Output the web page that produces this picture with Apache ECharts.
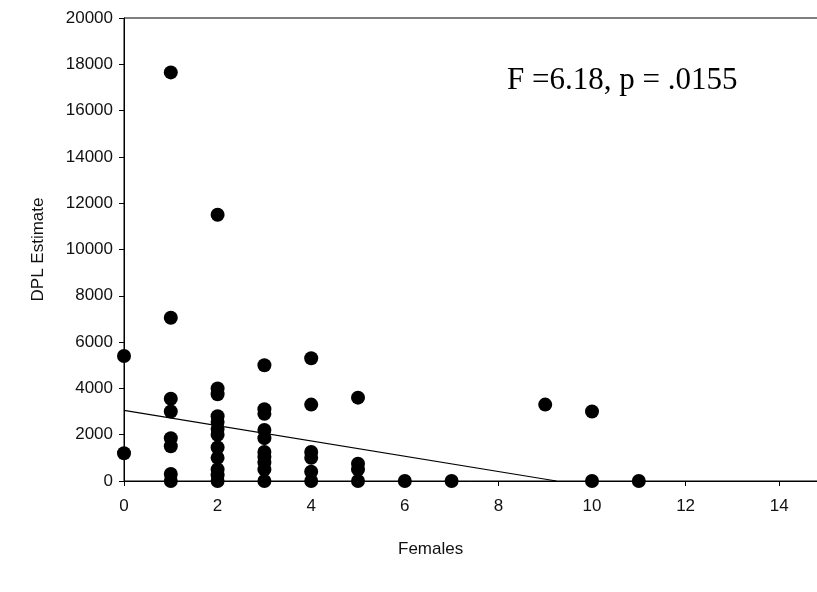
<!DOCTYPE html>
<html>
<head>
<meta charset="utf-8">
<script src="https://cdn.jsdelivr.net/npm/echarts@6/dist/echarts.min.js"></script>
<style>
    html, body { margin: 0; padding: 0; background: #fff; }
    #main { width: 817px; height: 592px; }
</style>
</head>
<body>
<div id="main"></div>
<script>
//  females count per group (x) and DPL estimate (y)
let femalesX = [0, 0,
    1, 1, 1, 1, 1, 1, 1, 1,
    2, 2, 2, 2, 2, 2, 2, 2, 2, 2, 2, 2,
    3, 3, 3, 3, 3, 3, 3, 3, 3, 3,
    4, 4, 4, 4, 4, 4,
    5, 5, 5, 5,
    6, 7, 9, 10, 10, 11];
let dplY = [5400, 1200,
    17650, 7050, 3550, 3000, 1850, 1500, 300, 0,
    11500, 4000, 3750, 2800, 2550, 2250, 2000, 1450, 1000, 500, 250, 0,
    5000, 3100, 2900, 2200, 1850, 1250, 1050, 800, 500, 0,
    5300, 3300, 1250, 1000, 400, 0,
    3600, 750, 500, 0,
    0, 0, 3300, 3000, 0, 0];

//  fitted regression line, ends where it hits zero
let fitX = [0, 9.24];
let fitY = [3050, 0];

let xTicks = [0, 2, 4, 6, 8, 10, 12, 14];
let yTicks = [0, 2000, 4000, 6000, 8000, 10000, 12000, 14000, 16000, 18000, 20000];

let statText = 'F =6.18, p = .0155';

let chart = echarts.init(document.getElementById('main'), null, { renderer: 'canvas' });

let points = [];
for (let i = 0; i < femalesX.length; i++) {
    points.push([femalesX[i], dplY[i]]);
}
let fitLine = [];
for (let i = 0; i < fitX.length; i++) {
    fitLine.push([fitX[i], fitY[i]]);
}

let labelFont = {
    color: '#111',
    fontSize: 17,
    fontFamily: 'Liberation Sans, Arial, sans-serif'
};

var option = {
    backgroundColor: '#ffffff',
    animation: false,
    grid: {
        left: 124,
        top: 18,
        bottom: 111,
        right: -9,      //  frame runs past the right edge of the picture, as in the original
        outerBoundsMode: 'none',
        show: true,
        borderColor: '#000',
        borderWidth: 1
    },
    xAxis: {
        type: 'value',
        min: 0,
        max: 15,
        interval: 2,
        splitLine: { show: false },
        axisLine: { show: true, onZero: false, lineStyle: { color: '#000', width: 1 } },
        axisTick: { show: true, inside: false, length: 5, lineStyle: { color: '#000' } },
        axisLabel: Object.assign({
            margin: 17,
            showMaxLabel: false,
            formatter: function (v) {
                return xTicks.indexOf(v) >= 0 ? String(v) : '';
            }
        }, labelFont)
    },
    yAxis: {
        type: 'value',
        min: yTicks[0],
        max: yTicks[yTicks.length - 1],
        interval: 2000,
        name: 'DPL Estimate',
        nameLocation: 'middle',
        nameGap: 77,
        nameTextStyle: labelFont,
        splitLine: { show: false },
        axisLine: { show: true, onZero: false, lineStyle: { color: '#000', width: 1 } },
        axisTick: { show: true, inside: false, length: 5, lineStyle: { color: '#000' } },
        axisLabel: Object.assign({
            margin: 11,
            formatter: function (v) { return String(v); }   //  no thousands comma
        }, labelFont)
    },
    graphic: [
        {
            type: 'text',
            left: 398,
            top: 541,
            style: {
                text: 'Females',
                fill: '#111',
                font: '17px "Liberation Sans", Arial, sans-serif'
            }
        },
        {
            type: 'text',
            left: 507,
            top: 65,
            style: {
                text: statText,
                fill: '#000',
                font: '31px "Liberation Serif", "Times New Roman", serif'
            }
        }
    ],
    series: [
        {
            name: 'DPL',
            type: 'scatter',
            symbol: 'circle',
            symbolSize: 14,
            itemStyle: { color: '#000', opacity: 1 },
            data: points
        },
        {
            name: 'fit',
            type: 'line',
            symbol: 'none',
            lineStyle: { color: '#000', width: 1.2 },
            data: fitLine
        }
    ]
};

chart.setOption(option);
</script>
</body>
</html>
